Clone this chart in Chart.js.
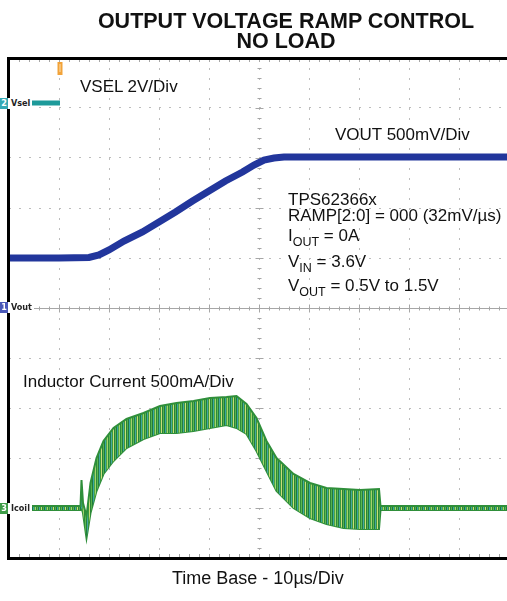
<!DOCTYPE html>
<html>
<head>
<meta charset="utf-8">
<title>Output Voltage Ramp Control - No Load</title>
<script src="https://cdn.jsdelivr.net/npm/chart.js@4/dist/chart.umd.min.js"></script>
<style>
  body { margin: 0; overflow: hidden; background: #fff; font-family: "Liberation Sans", Arial, sans-serif; }
  #area { position: absolute; left: 0; top: 0; width: 520px; height: 601px; }
  .titulo { position: absolute; left: 86px; width: 400px; text-align: center; font-weight: bold; font-size: 21.5px; line-height: 20px; color: #111; }
  .txt { position: absolute; font-size: 17px; line-height: 17px; color: #111; white-space: nowrap; }
  .sub { font-size: 12.5px; position: relative; top: 5px; }
  .canal { position: absolute; left: 0; height: 11px; font: bold 9px "DejaVu Sans Condensed", sans-serif; line-height: 11px; white-space: nowrap; }
  .caixa { display: inline-block; width: 8px; height: 11px; color: #fff; text-align: center; vertical-align: top; }
  .nome { display: inline-block; background: #fff; color: #222; padding: 0 2px 0 3px; vertical-align: top; }
</style>
</head>
<body>
<div id="area"><canvas id="grafico-rampa" width="520" height="601"></canvas></div>

<div class="titulo" style="top:11px">OUTPUT VOLTAGE RAMP CONTROL<br>NO LOAD</div>

<div class="txt" style="left:80px; top:78px">VSEL 2V/Div</div>
<div class="txt" style="left:335px; top:126px">VOUT 500mV/Div</div>
<div class="txt" style="left:288px; top:191px">TPS62366x</div>
<div class="txt" style="left:288px; top:207px">RAMP[2:0] = 000 (32mV/µs)</div>
<div class="txt" style="left:288px; top:227px">I<span class="sub">OUT</span> = 0A</div>
<div class="txt" style="left:288px; top:253px">V<span class="sub">IN</span> = 3.6V</div>
<div class="txt" style="left:288px; top:277px">V<span class="sub">OUT</span> = 0.5V to 1.5V</div>
<div class="txt" style="left:23px; top:373px">Inductor Current 500mA/Div</div>
<div class="txt" style="left:172px; top:570px; font-size:18px">Time Base - 10µs/Div</div>

<div class="canal" style="top:98px"><span class="caixa" style="background:#35a9b4">2</span><span class="nome">Vsel</span></div>
<div class="canal" style="top:302px"><span class="caixa" style="background:#4a58b8">1</span><span class="nome">Vout</span></div>
<div class="canal" style="top:503px"><span class="caixa" style="background:#3e9c48">3</span><span class="nome">Icoil</span></div>

<script>
const tempoVsel = [0, 10.2];
const vsel = [0, 0]; // V, 2V/div

const tempoVout = [0, 10, 16, 18, 20, 23, 26.7, 30, 33.3, 36.7, 40, 43.3, 46.7, 49, 51, 53, 55, 60, 70, 80, 90, 100];
const vout = [0.50, 0.50, 0.505, 0.53, 0.58, 0.67, 0.76, 0.86, 0.96, 1.07, 1.17, 1.27, 1.36, 1.43, 1.48, 1.50, 1.51, 1.51, 1.51, 1.51, 1.51, 1.51]; // V, 500mV/div

const tempoIcoil = [0, 14.3, 14.5, 14.8, 15.5, 16.3, 17.5, 18.9, 20.9, 23.5, 26.9, 30.2, 33.5, 36.9, 40.2, 43.5, 45.5, 47.5, 49.5, 51.5, 53.5, 56.9, 60.2, 63.5, 66.9, 70.2, 74.0, 74.3, 100];
const icoilTopo = [0.02, 0.02, 0.28, 0.05, -0.08, 0.25, 0.50, 0.67, 0.80, 0.89, 0.95, 1.02, 1.05, 1.07, 1.10, 1.11, 1.12, 1.04, 0.90, 0.67, 0.50, 0.34, 0.25, 0.20, 0.19, 0.18, 0.19, 0.02, 0.02]; // A, 500mA/div
const icoilFundo = [-0.02, -0.02, 0.00, -0.05, -0.30, -0.05, 0.17, 0.34, 0.47, 0.60, 0.69, 0.75, 0.75, 0.77, 0.80, 0.83, 0.80, 0.74, 0.57, 0.37, 0.17, 0.00, -0.10, -0.16, -0.20, -0.21, -0.21, -0.02, -0.02];

function pontos(xs, ys) {
    return xs.map((x, i) => ({ x: x, y: ys[i] }));
}

const ctx = document.getElementById('grafico-rampa').getContext('2d');

// 2. Textura listrada para o ripple da corrente do indutor
function criarPadrao() {
    const cores = ['#2d8b3a', '#5cb84e', '#237d40', '#46a8a0', '#3b9a3f', '#c9de7a',
                   '#2b8238', '#55b24c', '#1f7a3c', '#3aa5a0', '#4aa846', '#a6d26e'];
    const c = document.createElement('canvas');
    c.width = cores.length;
    c.height = 1;
    const g = c.getContext('2d');
    cores.forEach((cor, i) => { g.fillStyle = cor; g.fillRect(i, 0, 1, 1); });
    return ctx.createPattern(c, 'repeat');
}

// 3. Moldura, eixo central com marcas e marcador de trigger
const moldura = {
    id: 'moldura',
    beforeDatasetsDraw(chart) {
        const { ctx, chartArea: a, scales } = chart;
        const cx = Math.round(scales.x.getPixelForValue(50)) + 0.5;
        const cy = Math.round(scales.y.getPixelForValue(0)) + 0.5;
        ctx.save();
        ctx.strokeStyle = '#a6a6a6';
        ctx.lineWidth = 1;
        ctx.beginPath();
        ctx.moveTo(a.left, cy); ctx.lineTo(a.right, cy);
        for (let k = 0; k <= 50; k++) {
            const px = Math.round(scales.x.getPixelForValue(k * 2)) + 0.5;
            const h = k % 5 === 0 ? 4 : 2;
            ctx.moveTo(px, cy - h); ctx.lineTo(px, cy + h);
            ctx.moveTo(px, a.bottom - 4); ctx.lineTo(px, a.bottom);
            ctx.moveTo(px, a.top); ctx.lineTo(px, a.top + 4);
        }
        for (let k = -25; k <= 25; k++) {
            const py = Math.round(scales.y.getPixelForValue(k * 0.1)) + 0.5;
            const h = k % 5 === 0 ? 4 : 2;
            ctx.moveTo(cx - h, py); ctx.lineTo(cx + h, py);
        }
        ctx.stroke();
        ctx.restore();
    },
    afterDraw(chart) {
        const { ctx, chartArea: a, scales } = chart;
        ctx.save();
        ctx.fillStyle = '#000';
        ctx.fillRect(a.left - 2, a.top - 1, a.width + 4, 3);
        ctx.fillRect(a.left - 2, a.bottom - 1, a.width + 4, 3);
        ctx.fillRect(a.left - 2, a.top - 1, 3, a.height + 3);
        ctx.fillRect(a.right - 1, a.top - 1, 3, a.height + 3);
        // marcador de trigger (laranja)
        const tx = scales.x.getPixelForValue(tempoVsel[1]);
        ctx.fillStyle = '#f2a33a';
        ctx.fillRect(tx - 2.5, a.top + 4, 5, 13);
        ctx.fillStyle = '#fbe0b0';
        ctx.fillRect(tx - 0.5, a.top + 6, 1, 8);
        ctx.restore();
    }
};

// 4. Criar o gráfico
window.meuGrafico = new Chart(ctx, {
    type: 'line',
    data: {
        datasets: [{
            label: 'Icoil max',
            data: pontos(tempoIcoil, icoilTopo),
            yAxisID: 'yI',
            borderColor: '#2f8f3a',
            borderWidth: 2,
            backgroundColor: criarPadrao(),
            fill: '+1'
        }, {
            label: 'Icoil min',
            data: pontos(tempoIcoil, icoilFundo),
            yAxisID: 'yI',
            borderColor: '#2f8f3a',
            borderWidth: 2,
            fill: false
        }, {
            label: 'Vout',
            data: pontos(tempoVout, vout),
            yAxisID: 'y',
            borderColor: '#22369c',
            borderWidth: 7,
            fill: false
        }, {
            label: 'Vsel',
            data: pontos(tempoVsel, vsel),
            yAxisID: 'yS',
            borderColor: '#1d9a9a',
            borderWidth: 5,
            fill: false
        }]
    },
    options: {
        responsive: false,
        animation: false,
        layout: { padding: { left: 9, top: 58, right: 11, bottom: 43 } },
        elements: { point: { radius: 0 }, line: { tension: 0 } },
        plugins: {
            legend: { display: false },
            tooltip: { enabled: false }
        },
        scales: {
            x: {
                type: 'linear', min: 0, max: 100,
                ticks: { display: false, stepSize: 10 },
                grid: { color: '#bcbcbc', drawTicks: false },
                border: { display: false, dash: [2, 8] }
            },
            y: {
                min: -2.5, max: 2.5,
                ticks: { display: false, stepSize: 0.5 },
                grid: { color: '#bcbcbc', drawTicks: false },
                border: { display: false, dash: [2, 8] }
            },
            yI: { display: false, min: -0.5, max: 4.5 },
            yS: { display: false, min: -18.2, max: 1.8 }
        }
    },
    plugins: [moldura]
});
</script>
</body>
</html>
